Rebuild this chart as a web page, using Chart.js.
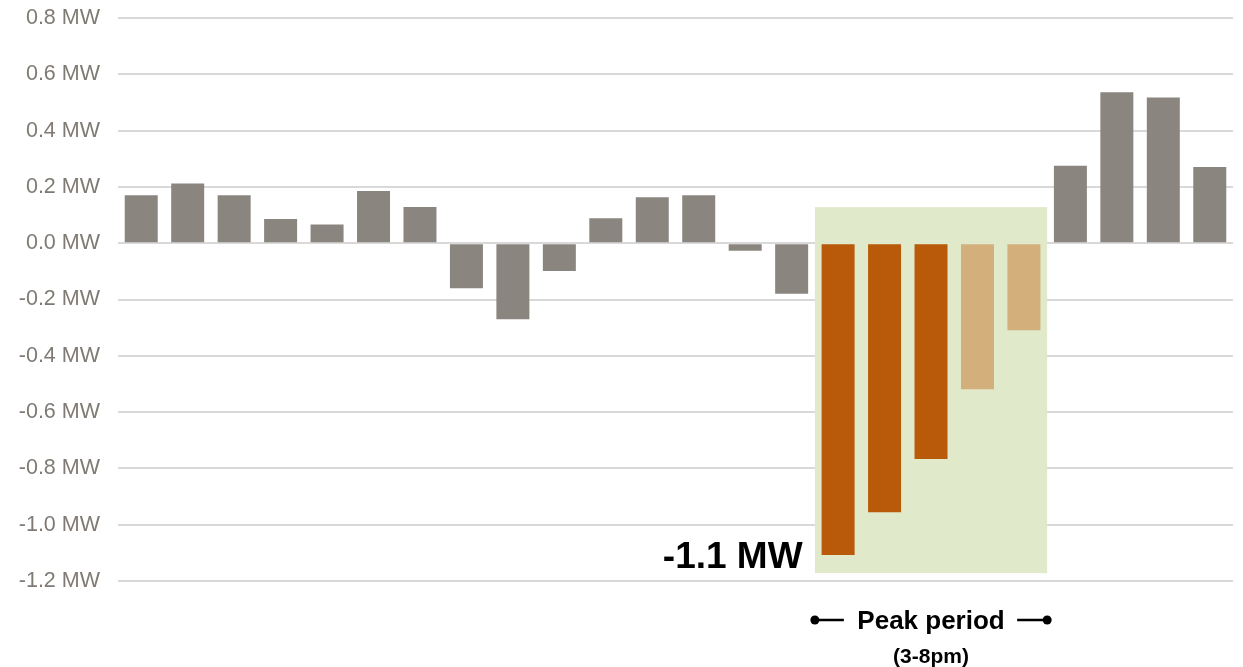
<!DOCTYPE html>
<html>
<head>
<meta charset="utf-8">
<script src="https://cdn.jsdelivr.net/npm/chart.js@4.4.1/dist/chart.umd.min.js"></script>
<style>
  html, body { margin: 0; padding: 0; background: #fff; }
  #wrap { width: 1243px; height: 667px; position: relative; }
</style>
</head>
<body>
<div id="wrap"><canvas id="c" width="1243" height="667"></canvas></div>
<script>
// ---- data ----
const hours = ["1","2","3","4","5","6","7","8","9","10","11","12","13","14","15","16","17","18","19","20","21","22","23","24"];
const netLoadChange = [0.170, 0.212, 0.170, 0.086, 0.066, 0.185, 0.129, -0.160, -0.270, -0.099, 0.089, 0.163, 0.170, -0.027, -0.180, -1.108, -0.956, -0.767, -0.519, -0.309, 0.275, 0.536, 0.518, 0.271];
const barColors = ["#8a857e","#8a857e","#8a857e","#8a857e","#8a857e","#8a857e","#8a857e","#8a857e","#8a857e","#8a857e","#8a857e","#8a857e","#8a857e","#8a857e","#8a857e","#b9590a","#b9590a","#b9590a","#d3af7c","#d3af7c","#8a857e","#8a857e","#8a857e","#8a857e"];
const yTicks = [-1.2, -1.0, -0.8, -0.6, -0.4, -0.2, 0.0, 0.2, 0.4, 0.6, 0.8];
const peakStartIndex = 15;
const peakEndIndex = 19;
const peakBoxRange = [-1.172, 0.128];
const peakCallout = "-1.1 MW";
const peakLabel = "Peak period";
const peakSubLabel = "(3-8pm)";

const FONT = "'Liberation Sans', Arial, sans-serif";

const overlayPlugin = {
  id: 'overlay',
  beforeDatasetsDraw(chart) {
    const { ctx, scales: { x, y } } = chart;
    const half = (x.getPixelForValue(1) - x.getPixelForValue(0)) / 2;
    const left = x.getPixelForValue(peakStartIndex) - half;
    const right = x.getPixelForValue(peakEndIndex) + half;
    const top = y.getPixelForValue(peakBoxRange[1]);
    const bottom = y.getPixelForValue(peakBoxRange[0]);
    ctx.save();
    ctx.fillStyle = '#e1e9cb';
    ctx.fillRect(left, top, right - left, bottom - top);
    ctx.restore();
  },
  afterDraw(chart) {
    const { ctx, scales: { x, y } } = chart;
    const half = (x.getPixelForValue(1) - x.getPixelForValue(0)) / 2;
    const left = x.getPixelForValue(peakStartIndex) - half;
    const right = x.getPixelForValue(peakEndIndex) + half;
    const meta = chart.getDatasetMeta(0);
    const bar = meta.data[peakStartIndex];
    ctx.save();
    // callout
    ctx.fillStyle = '#000';
    ctx.font = "bold 37px " + FONT;
    ctx.textAlign = 'right';
    ctx.textBaseline = 'alphabetic';
    ctx.fillText(peakCallout, bar.x - bar.width / 2 - 19, bar.y + 13);
    // peak period label
    const cx = (left + right) / 2;
    const base = y.getPixelForValue(-1.2);
    ctx.font = "bold 26px " + FONT;
    ctx.textAlign = 'center';
    ctx.fillText(peakLabel, cx, base + 48);
    ctx.font = "bold 21px " + FONT;
    ctx.fillText(peakSubLabel, cx, base + 82);
    // arrows with dots
    const ly = base + 39;
    ctx.strokeStyle = '#000';
    ctx.lineWidth = 2.5;
    ctx.beginPath();
    ctx.moveTo(left, ly); ctx.lineTo(left + 29, ly);
    ctx.moveTo(right - 30, ly); ctx.lineTo(right, ly);
    ctx.stroke();
    ctx.beginPath(); ctx.arc(left, ly, 4.5, 0, Math.PI * 2); ctx.fill();
    ctx.beginPath(); ctx.arc(right, ly, 4.5, 0, Math.PI * 2); ctx.fill();
    ctx.restore();
  }
};

new Chart(document.getElementById('c'), {
  type: 'bar',
  data: {
    labels: hours,
    datasets: [{
      data: netLoadChange,
      backgroundColor: barColors,
      borderWidth: 0,
      barPercentage: 0.71,
      categoryPercentage: 1.0
    }]
  },
  options: {
    responsive: false,
    animation: false,
    layout: { padding: { top: 18, bottom: 86, left: 0, right: 10 } },
    plugins: { legend: { display: false }, tooltip: { enabled: false }, title: { display: false } },
    scales: {
      x: { display: false, offset: true, grid: { display: false } },
      y: {
        min: -1.2, max: 0.8,
        afterFit(scale) { scale.width = 118; scale.paddingTop = 0; scale.paddingBottom = 0; },
        afterBuildTicks(scale) { scale.ticks = yTicks.map(v => ({ value: v })); },
        border: { display: false },
        grid: { color: '#d9d9d9', lineWidth: 2, drawTicks: false },
        ticks: {
          padding: 18,
          color: '#7f7a73',
          font: { family: FONT, size: 21.5 },
          callback: v => v.toFixed(1) + ' MW'
        }
      }
    }
  },
  plugins: [overlayPlugin]
});
</script>
</body>
</html>
